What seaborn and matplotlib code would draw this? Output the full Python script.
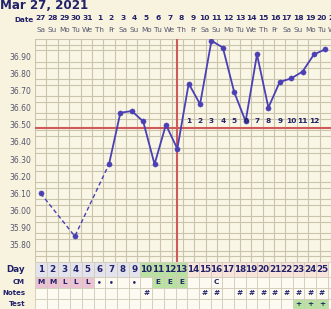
import matplotlib
matplotlib.use("Agg")
import matplotlib.pyplot as plt
import numpy as np
import pandas as pd
import seaborn as sns

# ---------------- data ----------------
title = "Mar 27, 2021"
cycle_days = list(range(1, 26))
dates = ["27", "28", "29", "30", "31"] + [str(d) for d in range(1, 21)]
weekdays = ["Sa", "Su", "Mo", "Tu", "We", "Th", "Fr"] * 4
weekdays = weekdays[:25]

temp_days = [1, 4, 7, 8, 9, 10, 11, 12, 13, 14, 15, 16, 17, 18, 19, 20, 21, 22, 23, 24, 25, 26]
temps = [36.10, 35.85, 36.27, 36.57, 36.58, 36.52, 36.27, 36.50, 36.36, 36.74, 36.62,
         36.99, 36.95, 36.69, 36.52, 36.91, 36.60, 36.75, 36.77, 36.81, 36.91, 36.94]

coverline = 36.48
ovulation_day = 13
post_ov_days = list(range(14, 26))
post_ov_labels = [str(i) for i in range(1, 13)]

day_phase = ["pre"] * 9 + ["fertile"] * 4 + ["post"] * 12
cm_values = ["M", "M", "L", "L", "L", "•", "•", "", "•", "", "E", "E", "E",
             "", "", "C", "", "", "", "", "", "", "", "", ""]
notes = ["", "", "", "", "", "", "", "", "", "#", "", "", "", "", "#", "#", "",
         "#", "#", "#", "#", "#", "#", "#", "#"]
tests = [""] * 22 + ["+", "+", "+"]

yticks = [round(35.8 + 0.1 * i, 2) for i in range(12)]

# ---------------- style ----------------
W, H = 331, 309
BG = "#f8f3de"
PLOT_BG = "#faf6e6"
GRID = "#cbc4ac"
NAVY = "#22226a"
LABEL = "#55556e"
LINE = "#4a40b4"
RED = "#cf5a5a"
GREEN = "#b9e1a2"
PINK = "#ebc3d2"
LAV = "#e3e3ee"
PEACH = "#f8e4da"
CELL = "#fcfaf1"

sns.set_theme(style="white")
plt.rcParams["font.family"] = ["DejaVu Sans"]
plt.rcParams["savefig.bbox"] = None
plt.rcParams["savefig.pad_inches"] = 0

fig = plt.figure(figsize=(W / 100, H / 100), dpi=100, facecolor=BG)

left_px, right_px = 35, 331
top_px, grid_bottom_px = 39, 262
col_w = 11.71
xmin = 0.5
xmax = 0.5 + (right_px - left_px) / col_w

def fx(px):
    return px / W

def fy(py):
    return 1 - py / H

# main temperature axes
ax = fig.add_axes([fx(left_px), fy(grid_bottom_px), fx(right_px - left_px), (grid_bottom_px - top_px) / H])
ax.set_facecolor(PLOT_BG)
ax.set_xlim(xmin, xmax)
ax.set_ylim(35.70, 37.00)
ax.set_xticks([d + 0.5 for d in range(0, 27)], minor=False)
ax.set_xticklabels([])
ax.set_yticks(yticks)
ax.set_yticklabels([f"{v:.2f}" for v in yticks], fontsize=5.5, color=LABEL)
ax.set_yticks(np.arange(35.70, 37.0001, 0.1 / 3), minor=True)
ax.tick_params(axis="both", which="both", length=0, pad=2.5)
ax.grid(True, which="major", axis="x", color=GRID, lw=0.8)
ax.grid(True, which="minor", axis="y", color=GRID, lw=0.8)
ax.grid(False, which="major", axis="y")
for s in ax.spines.values():
    s.set_visible(False)

ax.axhline(coverline, color=RED, lw=1.5, zorder=3)
ax.axvline(ovulation_day, color=RED, lw=1.5, zorder=3)

df = pd.DataFrame({"day": temp_days, "temp": temps})
dashed = df[df["day"] <= 7]
solid = df[df["day"] >= 7]
sns.lineplot(data=dashed, x="day", y="temp", ax=ax, color=LINE, lw=1.0,
             linestyle=(0, (3, 2)), zorder=4)
sns.lineplot(data=solid, x="day", y="temp", ax=ax, color=LINE, lw=1.3, zorder=4)
sns.scatterplot(data=df, x="day", y="temp", ax=ax, color=LINE, s=14,
                edgecolor=LINE, zorder=5, clip_on=True)
ax.set_xlabel("")
ax.set_ylabel("")

for d, lab in zip(post_ov_days, post_ov_labels):
    ax.text(d, 36.522, lab, ha="center", va="center", fontsize=5.3,
            fontweight="bold", color=NAVY, zorder=6)

# header axes (dates + weekdays)
axh = fig.add_axes([fx(left_px), fy(top_px), fx(right_px - left_px), top_px / H])
axh.set_xlim(xmin, xmax)
axh.set_ylim(top_px, 0)
axh.axis("off")
for d, ds, wd in zip(cycle_days, dates, weekdays):
    axh.text(d, 18.5, ds, ha="center", va="center", fontsize=5.4,
             fontweight="bold", color=NAVY)
    axh.text(d, 30.5, wd, ha="center", va="center", fontsize=5.2, color=LABEL)
axh.text(26, 30.5, "We", ha="center", va="center", fontsize=5.2, color=LABEL, clip_on=True)
axh.text(26, 18.5, "21", ha="center", va="center", fontsize=5.4,
         fontweight="bold", color=NAVY, clip_on=True)
axh.text(0.40, 20.0, "Date", ha="right", va="center", fontsize=5.2,
         fontweight="bold", color=NAVY, clip_on=False)

fig.text(fx(0), fy(9.0), title, ha="left", va="baseline", fontsize=8.6,
         fontweight="bold", color=NAVY)

# bottom table axes
axb = fig.add_axes([fx(left_px), 0, fx(right_px - left_px), (H - grid_bottom_px) / H])
axb.set_facecolor(CELL)
axb.set_xlim(xmin, xmax)
axb.set_ylim(H - grid_bottom_px, 0)
axb.axis("off")
rows = [(0, 14.5), (14.5, 25.5), (25.5, 36.5), (36.5, 47)]
phase_color = {"pre": LAV, "fertile": GREEN, "post": PEACH}

day_colors = [phase_color[p] for p in day_phase]
cm_colors = []
for v in cm_values:
    if v in ("M", "L"):
        cm_colors.append(PINK)
    elif v == "E":
        cm_colors.append(GREEN)
    else:
        cm_colors.append(CELL)
test_colors = [GREEN if t == "+" else CELL for t in tests]
note_colors = [CELL] * 25

row_colors = [day_colors, cm_colors, note_colors, test_colors]
row_texts = [[str(d) for d in cycle_days], cm_values, notes, tests]
row_fs = [6.3, 5.3, 5.3, 5.3]
for (y0, y1), cols, texts, fs in zip(rows, row_colors, row_texts, row_fs):
    axb.bar(cycle_days, height=y1 - y0, bottom=y0, width=1.0, color=cols,
            edgecolor="#d2ccb8", linewidth=0.6, align="center")
    axb.bar([26], height=y1 - y0, bottom=y0, width=1.0, color=CELL,
            edgecolor="#d2ccb8", linewidth=0.6)
    for d, t in zip(cycle_days, texts):
        if t:
            axb.text(d, (y0 + y1) / 2 + 0.3, t, ha="center", va="center",
                     fontsize=fs, fontweight="bold", color=NAVY)

row_names = ["Day", "CM", "Notes", "Test"]
name_fs = [6.3, 5.0, 5.0, 5.0]
for (y0, y1), nm, fs in zip(rows, row_names, name_fs):
    axb.text(-0.35, (y0 + y1) / 2 + 0.3, nm, ha="right", va="center",
             fontsize=fs, fontweight="bold", color=NAVY, clip_on=False)

fig.savefig("out.png", dpi=100, facecolor=BG)
